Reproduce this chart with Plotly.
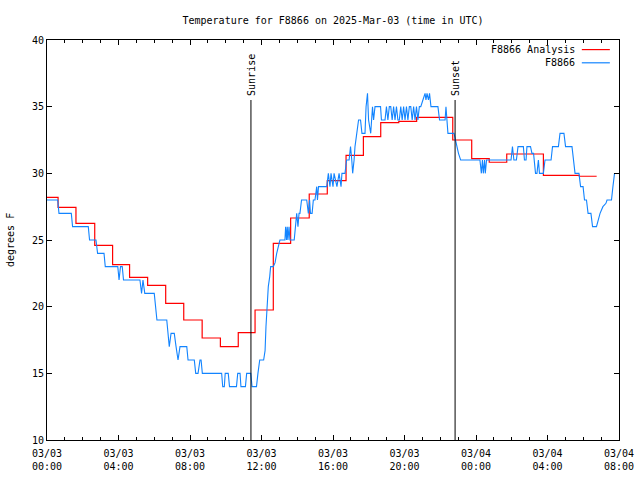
import pandas as pd
import plotly.graph_objects as go

# ---- data (hours after 2025-03-03 00:00 UTC, degrees F) ----
base = pd.Timestamp("2025-03-03 00:00")

red_hours = [0, 0.62, 1.62, 2.67, 3.67, 4.62, 5.63, 6.64, 7.65, 8.68, 9.70, 10.70,
             11.64, 12.66, 13.63, 14.67, 15.68, 16.73, 17.70, 18.67, 19.68, 20.68,
             22.70, 23.76, 24.74, 25.72, 27.77, 29.78, 30.75]
red_temps = [28.2, 27.45, 26.25, 24.6, 23.15, 22.2, 21.6, 20.25, 19.0, 17.65, 17.0, 18.05,
             19.75, 24.75, 26.65, 28.45, 29.45, 31.35, 32.75, 33.8, 33.9, 34.2,
             32.5, 31.1, 30.83, 31.45, 29.85, 29.78, 29.78]

blue_hours = [
    0, 0.60, 0.67, 1.36, 1.43, 2.31, 2.38, 2.74, 2.83, 3.19, 3.26, 3.96, 4.03, 4.11, 4.21, 4.28,
    5.20, 5.29, 5.37, 5.47, 6.00, 6.07, 6.15, 6.70, 6.77, 6.84, 6.94, 7.12, 7.22, 7.33, 7.44,
    7.82, 7.89, 8.24, 8.32, 8.45, 8.56, 8.62, 8.69, 9.77, 9.83, 9.92, 9.97, 10.14, 10.21,
    10.60, 10.67, 10.80, 10.85, 11.10, 11.17, 11.40, 11.47, 11.72, 11.80, 11.90, 12.12,
    12.20, 12.25, 12.31, 12.38, 12.46, 12.51, 12.66, 12.76, 12.85, 12.94, 13.03, 13.31,
    13.35, 13.40, 13.44, 13.48, 13.54, 13.59, 13.83, 13.90, 13.97, 14.04, 14.10, 14.15,
    14.24, 14.53, 14.62, 14.69, 14.74, 14.83, 14.90, 14.99, 15.09, 15.13, 15.19, 15.65,
    15.74, 15.83, 15.89, 16.00, 16.06, 16.22, 16.34, 16.45, 16.50, 16.67, 16.76, 16.90,
    16.98, 17.05, 17.10, 17.18, 17.23, 17.33, 17.43, 17.54, 17.62, 17.79, 17.85, 17.93,
    17.99, 18.11, 18.21, 18.27, 18.35, 18.66, 18.71, 18.91,
    18.99, 19.07, 19.15, 19.23, 19.31, 19.39, 19.47, 19.55, 19.63, 19.71, 19.79, 19.87,
    19.95, 20.03, 20.11, 20.19, 20.27, 20.35, 20.43, 20.51, 20.59, 20.67, 20.75, 20.83, 20.91,
    21.03, 21.15, 21.20, 21.26, 21.34, 21.40, 21.48, 21.87, 21.96, 22.27, 22.32, 22.38,
    22.43, 22.77, 22.91, 23.02, 23.14, 24.22, 24.30, 24.36, 24.41, 24.48, 24.52, 24.59,
    25.96, 26.04, 26.12, 26.26, 26.35, 26.65, 26.71, 26.80, 26.85, 27.05, 27.13, 27.22,
    27.33, 27.41, 27.49, 27.55, 27.77, 27.86, 28.20, 28.28, 28.61, 28.70, 28.92, 29.01,
    29.37, 29.45, 29.54, 29.76, 29.85, 29.99, 30.07, 30.18, 30.27, 30.43, 30.52, 30.74,
    30.83, 30.94, 31.10, 31.27, 31.33, 31.58, 31.66, 31.75]
blue_temps = [
    28, 28, 27, 27, 26, 26, 25, 25, 24, 24, 23, 23, 22, 23, 23, 22,
    22, 21, 22, 21, 21, 20, 19, 19, 18, 17, 18, 18, 17, 16, 17,
    17, 16, 16, 15, 15, 16, 16, 15, 15, 14, 14, 15, 15, 14,
    14, 15, 15, 14, 14, 15, 15, 14, 14, 15, 16, 16,
    16.7, 18.5, 20.25, 21.5, 22.25, 23, 23, 23.3, 24, 24.5, 25, 25,
    26, 25, 26, 25, 26, 25, 25, 26, 27, 26, 27, 27,
    28, 28, 27, 28, 27, 27, 28, 28, 29, 28, 29, 29,
    30, 29, 30, 29, 30, 29, 30, 29, 30, 30, 31, 31,
    32, 31, 30, 31, 32, 33, 34, 34, 33, 33, 35, 36,
    34, 33, 35, 34, 35, 35, 34, 34,
    35, 34, 35, 35, 34, 35, 34, 35, 34, 34, 35, 34,
    35, 34, 35, 34, 35, 35, 34, 35, 34, 35, 34, 35, 35,
    35.5, 36, 35.5, 36, 35.5, 36, 35, 35, 34, 34, 35, 34,
    33, 33, 32, 31.5, 31, 31, 30, 31, 30, 31, 30, 31,
    31, 32, 31, 31, 32, 32, 31, 31, 32, 32, 31.5, 31.5,
    30, 30, 31, 30, 30, 31, 31, 32, 32, 33, 33, 32,
    32, 31, 30, 30, 29, 29, 28, 28, 27, 27, 26, 26,
    26.5, 27, 27.5, 27.75, 28, 28, 29, 30]

sun_hours = [11.41, 22.83]
sun_labels = ["Sunrise", "Sunset"]

tick_hours = [0, 4, 8, 12, 16, 20, 24, 28, 32]
tick_labels = ["03/03<br>00:00", "03/03<br>04:00", "03/03<br>08:00", "03/03<br>12:00",
               "03/03<br>16:00", "03/03<br>20:00", "03/04<br>00:00", "03/04<br>04:00",
               "03/04<br>08:00"]

def to_time(hours):
    return [base + pd.Timedelta(hours=h) for h in hours]

FONT = "DejaVu Sans Mono"
RED = "#ff0000"
BLUE = "#1284ff"

fig = go.Figure()
fig.add_trace(go.Scatter(x=to_time(red_hours), y=red_temps, mode="lines",
                         line=dict(color=RED, width=1.2, shape="hv"),
                         name="F8866 Analysis", showlegend=False))
fig.add_trace(go.Scatter(x=to_time(blue_hours), y=blue_temps, mode="lines",
                         line=dict(color=BLUE, width=1.1),
                         name="F8866", showlegend=False))

for t, lab in zip(to_time(sun_hours), sun_labels):
    fig.add_shape(type="line", x0=t, x1=t, y0=10, y1=35.5, xref="x", yref="y",
                  line=dict(color="black", width=1))
    fig.add_annotation(x=t, y=35.5, xref="x", yref="y", text=lab, textangle=-90,
                       showarrow=False, xanchor="center", yanchor="bottom", yshift=2,
                       font=dict(family=FONT, size=10, color="black"))

# gnuplot-style legend (text right, sample on right)
legend_items = [("F8866 Analysis", RED, 0.976), ("F8866", BLUE, 0.943)]
for text, col, yy in legend_items:
    fig.add_annotation(x=0.927, y=yy, xref="paper", yref="paper", text=text,
                       showarrow=False, xanchor="right", yanchor="middle",
                       font=dict(family=FONT, size=10, color="black"))
    fig.add_shape(type="line", x0=0.935, x1=0.984, y0=yy, y1=yy, xref="paper",
                  yref="paper", line=dict(color=col, width=1.2))

fig.add_annotation(x=0, y=0.5, xref="paper", yref="paper", text="degrees F",
                   textangle=-90, showarrow=False, xshift=-37, xanchor="center",
                   yanchor="middle",
                   font=dict(family=FONT, size=10, color="black"))

fig.update_layout(
    width=640, height=480,
    margin=dict(l=47, r=21, t=40, b=40, autoexpand=False),
    paper_bgcolor="white", plot_bgcolor="white",
    title=dict(text="Temperature for F8866 on 2025-Mar-03 (time in UTC)",
               x=0.5, xref="paper", y=1 - 20 / 480, yanchor="middle",
               font=dict(family=FONT, size=10, color="black")),
    font=dict(family=FONT, size=10, color="black"),
)
fig.update_xaxes(
    type="date", range=[to_time([0])[0], to_time([32])[0]],
    tickvals=to_time(tick_hours), ticktext=tick_labels, automargin=False,
    ticks="inside", ticklen=5, tickcolor="black", showline=True, linecolor="black",
    linewidth=1, mirror="allticks", showgrid=False, zeroline=False,
    ticklabelstandoff=4,
    minor=dict(dtick=3600000, tick0=to_time([0])[0], ticks="inside", ticklen=3,
               tickcolor="black", showgrid=False),
    tickfont=dict(family=FONT, size=10),
)
fig.update_yaxes(
    range=[10, 40], dtick=5, tick0=10, ticks="inside", ticklen=5, tickcolor="black",
    showline=True, linecolor="black", linewidth=1, mirror="allticks", automargin=False,
    showgrid=False, zeroline=False, tickfont=dict(family=FONT, size=10),
)

fig.write_html("out.html", config={"displayModeBar": False},
               post_script="document.body.style.margin='0';document.body.style.overflow='hidden';")
